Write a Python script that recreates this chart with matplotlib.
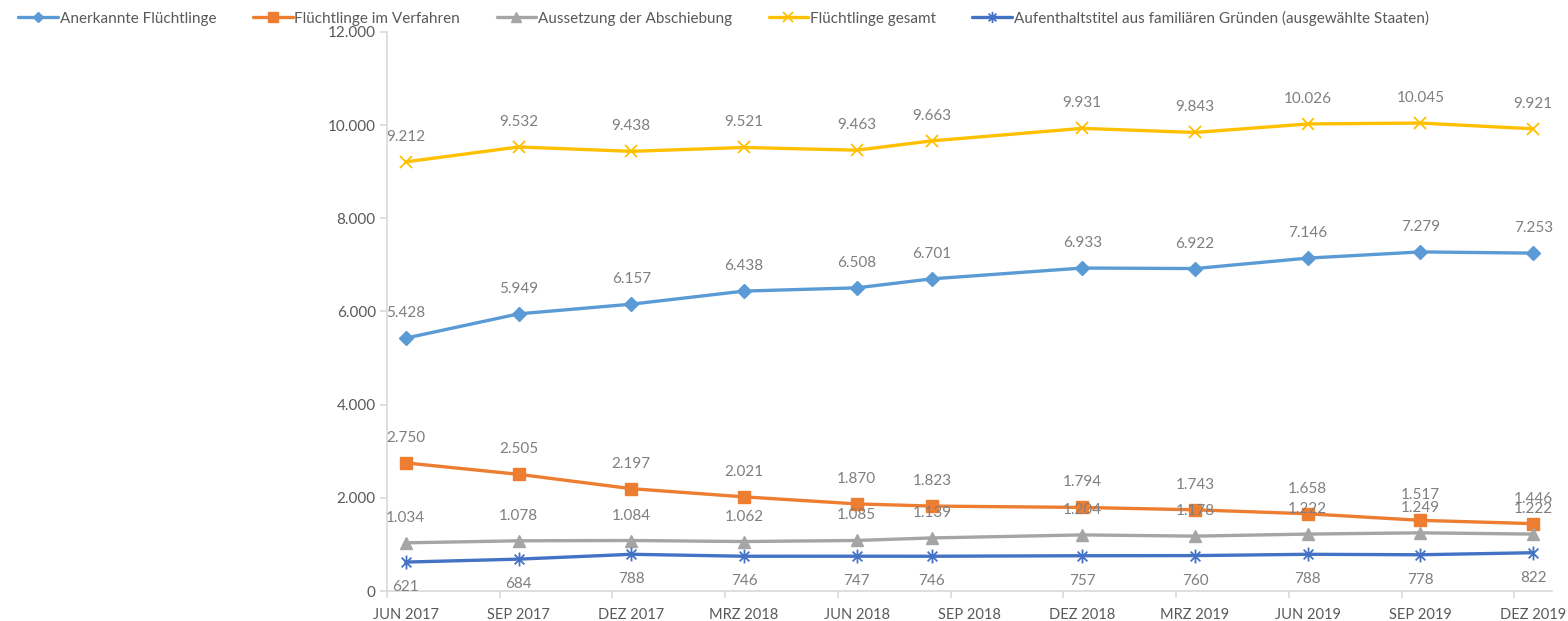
import pandas as pd
import matplotlib
matplotlib.use("Agg")
import matplotlib.pyplot as plt
from matplotlib.path import Path
from matplotlib.ticker import FuncFormatter, FixedLocator

plt.rcParams["font.family"] = ["Lato", "DejaVu Sans"]

# Stichtage (Monat der Erhebung)
dates = ["2017-06", "2017-09", "2017-12", "2018-03", "2018-06", "2018-08",
         "2018-12", "2019-03", "2019-06", "2019-09", "2019-12"]

anerkannt = [5428, 5949, 6157, 6438, 6508, 6701, 6933, 6922, 7146, 7279, 7253]
verfahren = [2750, 2505, 2197, 2021, 1870, 1823, 1794, 1743, 1658, 1517, 1446]
aussetzung = [1034, 1078, 1084, 1062, 1085, 1139, 1204, 1178, 1222, 1249, 1222]
gesamt = [9212, 9532, 9438, 9521, 9463, 9663, 9931, 9843, 10026, 10045, 9921]
familie = [621, 684, 788, 746, 747, 746, 757, 760, 788, 778, 822]

tick_months = ["2017-06", "2017-09", "2017-12", "2018-03", "2018-06", "2018-09",
               "2018-12", "2019-03", "2019-06", "2019-09", "2019-12"]
tick_labels = ["JUN 2017", "SEP 2017", "DEZ 2017", "MRZ 2018", "JUN 2018", "SEP 2018",
               "DEZ 2018", "MRZ 2019", "JUN 2019", "SEP 2019", "DEZ 2019"]

GREY_TXT = "#595959"
AXIS = "#d9d9d9"

start = pd.Period(dates[0], "M")
def month_idx(s):
    return (pd.Period(s, "M") - start).n

x = [month_idx(d) for d in dates]
xt = [month_idx(d) for d in tick_months]

# Excel-Stern: senkrechter Strich + x
star = Path([(0, -1), (0, 1), (-0.7, -0.7), (0.7, 0.7), (-0.7, 0.7), (0.7, -0.7)],
            [Path.MOVETO, Path.LINETO] * 3)

series = [
    ("Anerkannte Flüchtlinge", anerkannt, "#5B9BD5", "D", 7, "above"),
    ("Flüchtlinge im Verfahren", verfahren, "#ED7D31", "s", 9, "above"),
    ("Aussetzung der Abschiebung", aussetzung, "#A5A5A5", "^", 9, "above"),
    ("Flüchtlinge gesamt", gesamt, "#FFC000", "x", 9, "above"),
    ("Aufenthaltstitel aus familiären Gründen (ausgewählte Staaten)", familie, "#4472C4", star, 10, "below"),
]

def de_fmt(v, pos=None):
    return f"{int(round(v)):,}".replace(",", ".")

fig = plt.figure(figsize=(15.68, 6.21), dpi=100)
ax = fig.add_axes([0.2468, 0.0483, 0.7430, 0.9002])

for name, vals, col, mk, ms, where in series:
    thin = mk == "x" or mk is star
    ax.plot(x, vals, color=col, lw=2.4, marker=mk, markersize=ms,
            markeredgewidth=1.3 if thin else 1,
            markerfacecolor=col, markeredgecolor=col, label=name,
            solid_capstyle="round", zorder=3)
    dy = 18 if where == "above" else -18
    for xi, v in zip(x, vals):
        ax.annotate(de_fmt(v), (xi, v), xytext=(0, dy), textcoords="offset points",
                    ha="center", va="center", fontsize=11, color="#7f7f7f")

ax.set_xlim(-0.5, 30.5)
ax.set_ylim(0, 12000)
ax.set_yticks(range(0, 12001, 2000))
ax.yaxis.set_major_formatter(FuncFormatter(de_fmt))

ax.set_xticks(xt)
ax.set_xticklabels(tick_labels)
ax.xaxis.set_minor_locator(FixedLocator([t - 0.5 for t in xt]))
ax.tick_params(axis="x", which="major", length=0, pad=12, labelsize=10.5, labelcolor=GREY_TXT)
ax.tick_params(axis="x", which="minor", length=5, color=AXIS, width=1.2)
ax.tick_params(axis="y", length=5, color=AXIS, width=1.2, labelsize=11, labelcolor=GREY_TXT, pad=3)

for s in ("top", "right"):
    ax.spines[s].set_visible(False)
for s in ("left", "bottom"):
    ax.spines[s].set_color(AXIS)
    ax.spines[s].set_linewidth(1.2)

fig.legend(loc="upper left", bbox_to_anchor=(0.003, 1.005), ncol=5, frameon=False,
           fontsize=11, handlelength=2.6, handletextpad=0.1, columnspacing=2.4,
           labelcolor=GREY_TXT, markerscale=0.8)

fig.savefig("out.png", dpi=100)
